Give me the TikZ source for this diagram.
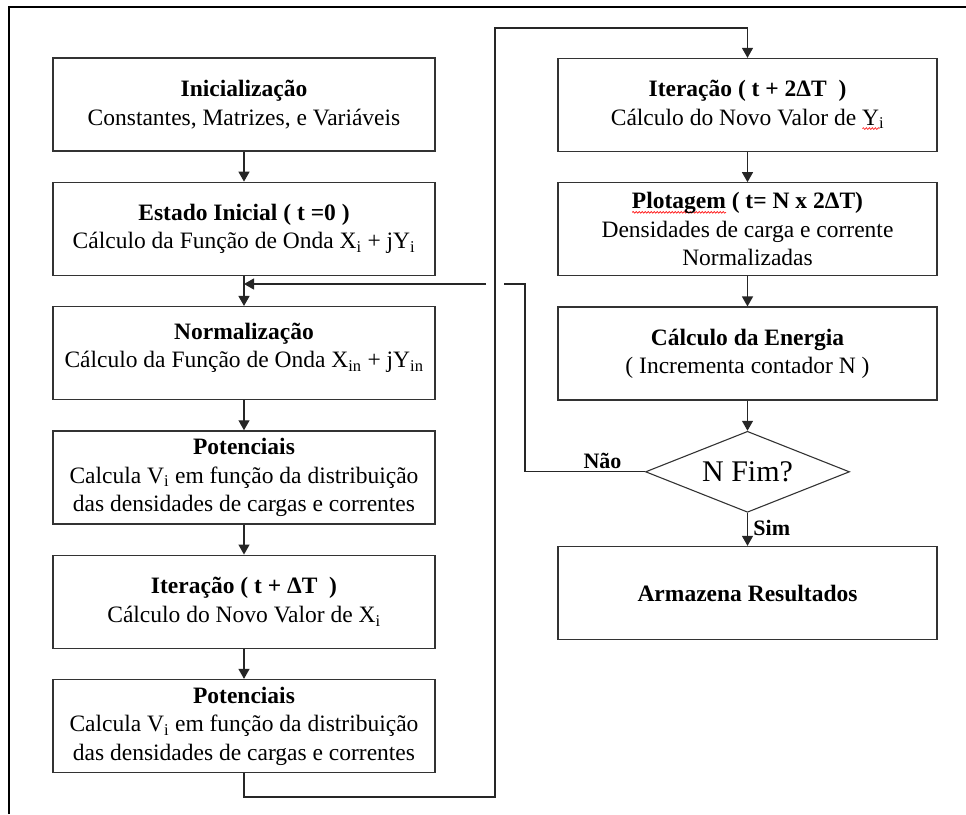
\documentclass[tikz,border=0pt]{standalone}
\usepackage{fontspec}
\setmainfont{Liberation Serif}
\usetikzlibrary{positioning,shapes.geometric,arrows.meta,decorations.pathmorphing}

\newcommand{\sub}[1]{\textsubscript{#1}}
% red spell-check wave under a word
\newsavebox{\spellbox}
\newcommand{\spell}[1]{\sbox{\spellbox}{#1}\rlap{\tikz[baseline=3.5pt]
    \draw[red, line width=0.6pt, decorate,
        decoration={snake, amplitude=0.9pt, segment length=3pt}]
        (0pt,0pt) -- (\wd\spellbox,0pt);}\usebox{\spellbox}}

\tikzset{
    block/.style={draw=black!80, line width=1.3pt, rectangle, align=center,
        minimum width=382pt, minimum height=93pt, inner sep=2pt,
        font=\fontsize{23.5}{28.5}\selectfont},
    decision/.style={draw=black!80, line width=1.1pt, diamond, aspect=2.5,
        minimum width=204pt, minimum height=81pt, inner sep=0pt,
        font=\fontsize{30}{32}\selectfont},
    flow/.style={draw=black!85, line width=1.3pt,
        -{Triangle[length=10pt,width=11pt]}},
    link/.style={draw=black!85, line width=1.3pt},
    answer/.style={font=\bfseries\fontsize{22}{24}\selectfont},
    frame/.style={line width=2.6pt, black}
}

\begin{document}
\begin{tikzpicture}[x=1pt, y=1pt, node distance=30pt]
    \useasboundingbox (0,0) rectangle (966,-814);

    % Page frame (top and left edges only)
    \draw[frame] (9,-814) -- (9,-7) -- (966,-7);

    % Left column
    \node[block] (init) at (244,-104.5)
        {\textbf{Inicialização}\\Constantes, Matrizes, e Variáveis};
    \node[block, below=of init] (estado)
        {\textbf{Estado Inicial ( t =0 )}\\Cálculo da Função de Onda X\sub{i} + jY\sub{i}};
    \node[block, below=of estado] (norm)
        {\textbf{Normalização}\\Cálculo da Função de Onda X\sub{in} + jY\sub{in}\\[-13pt]};
    \node[block, below=of norm] (pot1)
        {\textbf{Potenciais}\\Calcula V\sub{i} em função da distribuição\\das densidades de cargas e correntes};
    \node[block, below=of pot1] (iterX)
        {\textbf{Iteração ( t + ΔT~~)}\\Cálculo do Novo Valor de X\sub{i}};
    \node[block, below=of iterX] (pot2)
        {\textbf{Potenciais}\\Calcula V\sub{i} em função da distribuição\\das densidades de cargas e correntes};

    % Right column
    \node[block, minimum width=379pt] (iterY) at (747.5,-105)
        {\textbf{Iteração ( t + 2ΔT~~)}\\Cálculo do Novo Valor de \spell{Y}\sub{i}};
    \node[block, minimum width=379pt, below=of iterY] (plot)
        {\textbf{\spell{Plotagem} ( t= N x 2ΔT)}\\Densidades de carga e corrente\\Normalizadas};
    \node[block, minimum width=379pt, below=of plot] (energia)
        {\textbf{Cálculo da Energia}\\( Incrementa contador N )};
    \node[decision, below=of energia] (fim) {N Fim?};
    \node[block, minimum width=379pt, below=33pt of fim] (fimres)
        {\textbf{Armazena Resultados}};

    % Loop corners and line hop
    \coordinate (loopB) at (495,-797);
    \coordinate (loopT) at (495,-28);
    \coordinate (backR) at (525,-284);
    \coordinate (hopR) at (504,-284);
    \coordinate (hopL) at (486,-284);

    % Straight arrows down each column
    \draw[flow] (init) -- (estado);
    \draw[flow] (estado) -- (norm);
    \draw[flow] (norm) -- (pot1);
    \draw[flow] (pot1) -- (iterX);
    \draw[flow] (iterX) -- (pot2);
    \draw[flow] (iterY) -- (plot);
    \draw[flow] (plot) -- (energia);
    \draw[flow] (energia) -- (fim);
    \draw[flow] (fim) -- (fimres)
        node[answer, pos=0.45, right=2pt] {Sim};

    % From the left column over to the right one
    \draw[flow] (pot2.south) |- (loopB) -- (loopT) -| (iterY.north);

    % Back to the normalisation step
    \draw[link] (fim.west) -| (backR) -- (hopR);
    \draw[flow] (hopL) -- (hopL -| estado.south);
    \node[answer, above left=0pt and 20pt of fim.west] (nao) {Não};
\end{tikzpicture}
\end{document}
